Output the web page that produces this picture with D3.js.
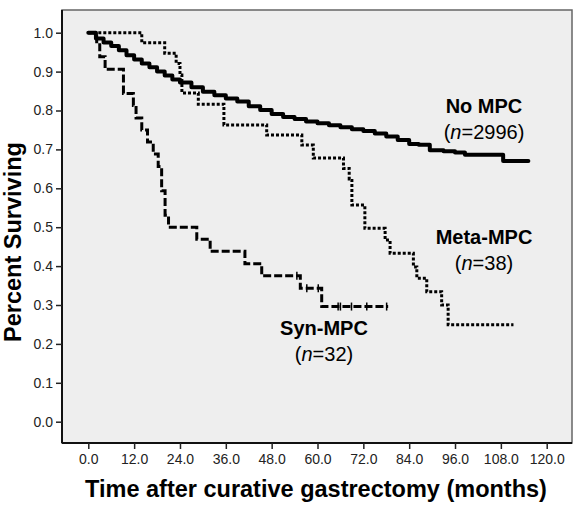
<!DOCTYPE html>
<html>
<head>
<meta charset="utf-8">
<script src="https://cdn.jsdelivr.net/npm/d3@7"></script>
<style>
  html, body { margin: 0; padding: 0; background: #ffffff; }
  svg { display: block; }
  text { font-family: "Liberation Sans", Arial, sans-serif; }
</style>
</head>
<body>
<svg id="chart" width="578" height="506"></svg>
<script>
// ---- data ----
const xTicks = [0, 12, 24, 36, 48, 60, 72, 84, 96, 108, 120];
const yTicks = [0, 0.1, 0.2, 0.3, 0.4, 0.5, 0.6, 0.7, 0.8, 0.9, 1.0];

const noMpcTime = [0, 2, 4, 6, 8, 10, 12, 14, 16, 18, 20, 22, 24, 27, 30, 33, 36, 39, 42, 45, 48, 51, 54, 57, 60, 63, 66, 69, 72, 75, 78, 81, 84, 86.5, 89.4, 93, 96, 98.6, 108.6, 115.2];
const noMpcSurv = [1.0, 0.985, 0.975, 0.966, 0.955, 0.942, 0.931, 0.921, 0.911, 0.900, 0.890, 0.880, 0.872, 0.860, 0.848, 0.839, 0.831, 0.823, 0.811, 0.801, 0.791, 0.783, 0.778, 0.772, 0.767, 0.762, 0.757, 0.752, 0.747, 0.741, 0.733, 0.724, 0.714, 0.712, 0.698, 0.695, 0.692, 0.686, 0.670, 0.670];

const metaTime = [0, 14, 20, 23, 24, 24.5, 28.8, 35.5, 46.7, 55.9, 58.9, 66.8, 68.3, 69, 72.4, 77.7, 79, 85.1, 86, 88.6, 92.5, 94.2, 111.3];
const metaSurv = [1.0, 0.974, 0.947, 0.921, 0.891, 0.845, 0.816, 0.763, 0.737, 0.711, 0.678, 0.651, 0.624, 0.557, 0.497, 0.467, 0.433, 0.398, 0.369, 0.334, 0.300, 0.249, 0.249];

const synTime = [0, 2.2, 3, 4.4, 9.2, 11.8, 12.5, 14, 15.5, 17, 18.3, 19.2, 20.1, 21, 28.4, 31.9, 41, 45.4, 55.5, 61.1, 78.5];
const synSurv = [1.0, 0.969, 0.938, 0.906, 0.844, 0.813, 0.781, 0.750, 0.719, 0.688, 0.656, 0.594, 0.531, 0.500, 0.469, 0.438, 0.406, 0.375, 0.343, 0.296, 0.296];
const synCensor = [54.6, 57.2, 60.2, 65.4, 66.0, 68.9, 72.9, 78.1];

// ---- layout ----
const svg = d3.select("#chart");
const frame = { left: 62, top: 10, right: 572, bottom: 443 };

const x = d3.scaleLinear().domain([0, 120]).range([88.3, 546.7]);
const y = d3.scaleLinear().domain([0, 1]).range([421.7, 32.7]);

// plot background
svg.append("rect")
  .attr("x", frame.left).attr("y", frame.top)
  .attr("width", frame.right - frame.left).attr("height", frame.bottom - frame.top)
  .attr("fill", "#eeeeee")
  .attr("stroke", "#666666").attr("stroke-width", 1.5);

// axes
const yAxis = d3.axisLeft(y).tickValues(yTicks).tickFormat(d3.format(".1f")).tickSize(6).tickPadding(3);
const xAxis = d3.axisBottom(x).tickValues(xTicks).tickFormat(d3.format(".1f")).tickSize(6).tickPadding(5);

const gy = svg.append("g").attr("transform", `translate(${frame.left},0)`).call(yAxis);
gy.select(".domain").attr("d", `M0,${frame.top}V${frame.bottom}`).attr("stroke", "#111").attr("stroke-width", 2);
const gx = svg.append("g").attr("transform", `translate(0,${frame.bottom})`).call(xAxis);
gx.select(".domain").attr("d", `M${frame.left},0H${frame.right}`).attr("stroke", "#111").attr("stroke-width", 2);

[gx, gy].forEach(g => {
  g.selectAll(".tick line").attr("stroke", "#222").attr("stroke-width", 1.5);
  g.selectAll(".tick text").attr("fill", "#222").style("font-size", "14px")
    .style("font-family", "'Liberation Sans', Arial, sans-serif");
});

// axis titles
svg.append("text")
  .attr("transform", "translate(21,242) rotate(-90)")
  .attr("text-anchor", "middle")
  .style("font-size", "23.5px").style("font-weight", "bold").attr("fill", "#000")
  .text("Percent Surviving");

svg.append("text")
  .attr("x", 316).attr("y", 497)
  .attr("text-anchor", "middle")
  .style("font-size", "23.5px").style("font-weight", "bold").attr("fill", "#000")
  .text("Time after curative gastrectomy (months)");

// survival curves
const line = d3.line().x(d => x(d[0])).y(d => y(d[1])).curve(d3.curveStepAfter);

svg.append("path")
  .datum(d3.zip(noMpcTime, noMpcSurv))
  .attr("d", line)
  .attr("fill", "none").attr("stroke", "#000").attr("stroke-width", 4)
  .attr("stroke-linejoin", "round").attr("stroke-linecap", "round");

svg.append("path")
  .datum(d3.zip(metaTime, metaSurv))
  .attr("d", line)
  .attr("fill", "none").attr("stroke", "#000").attr("stroke-width", 3)
  .attr("stroke-dasharray", "3,2");

svg.append("path")
  .datum(d3.zip(synTime, synSurv))
  .attr("d", line)
  .attr("fill", "none").attr("stroke", "#000").attr("stroke-width", 3)
  .attr("stroke-dasharray", "8,3");

// censor marks on Syn-MPC
const synAt = t => {
  const i = d3.bisectRight(synTime, t) - 1;
  return synSurv[Math.max(0, i)];
};
svg.append("g").selectAll("line")
  .data(synCensor)
  .join("line")
  .attr("x1", d => x(d)).attr("x2", d => x(d))
  .attr("y1", d => y(synAt(d)) - 4).attr("y2", d => y(synAt(d)) + 4)
  .attr("stroke", "#000").attr("stroke-width", 1.5);

// labels
function groupLabel(cx, by, name, n) {
  svg.append("text").attr("x", cx).attr("y", by).attr("text-anchor", "middle")
    .style("font-size", "20px").style("font-weight", "bold").attr("fill", "#000").text(name);
  const t = svg.append("text").attr("x", cx).attr("y", by + 26).attr("text-anchor", "middle")
    .style("font-size", "20px").attr("fill", "#000");
  t.append("tspan").text("(");
  t.append("tspan").style("font-style", "italic").text("n");
  t.append("tspan").text("=" + n + ")");
}
groupLabel(484, 113, "No MPC", 2996);
groupLabel(484, 244, "Meta-MPC", 38);
groupLabel(324, 335, "Syn-MPC", 32);
</script>
</body>
</html>
